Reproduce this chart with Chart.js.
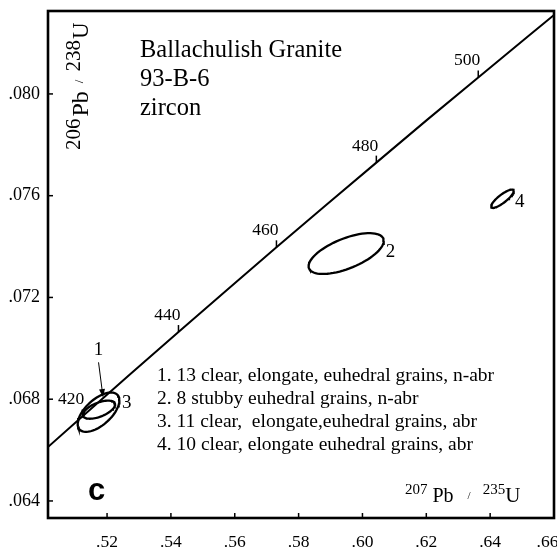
<!DOCTYPE html>
<html>
<head>
<meta charset="utf-8">
<script src="https://cdn.jsdelivr.net/npm/chart.js@4/dist/chart.umd.min.js"></script>
<style>
  html, body { margin: 0; padding: 0; background: #ffffff; }
  #chart { display: block; }
</style>
</head>
<body>
<canvas id="chart" width="557" height="548"></canvas>
<script>
// Concordia curve (age in Ma, 207Pb/235U, 206Pb/238U)
const concordiaAge = [410, 420, 430, 440, 450, 460, 470, 480, 490, 500, 510, 520];
const concordiaX = [0.49745, 0.51225, 0.52722, 0.54237, 0.55764, 0.57306, 0.58862, 0.60435, 0.62023, 0.63627, 0.65246, 0.66882];
const concordiaY = [0.06567, 0.06732, 0.06898, 0.07064, 0.07230, 0.07397, 0.07563, 0.07730, 0.07898, 0.08065, 0.08233, 0.08401];
const ageTicks = [420, 440, 460, 480, 500];

// Error ellipses: fractions 1..4
const fractions = ['1', '2', '3', '4'];
const ellX = [0.51749, 0.5949, 0.51733, 0.64386];
const ellY = [0.067588, 0.073725, 0.06749, 0.075882];
const ellSX = [0.00502, 0.01177, 0.00653, 0.00355];
const ellSY = [0.000356, 0.000802, 0.000773, 0.00036];
const ellRho = [0.57, 0.62, 0.60, 0.84];

// label anchor for each fraction number
const labelX = [0.51733, 0.60728, 0.52471, 0.64779];
const labelY = [0.069725, 0.073608, 0.067647, 0.075569];

const xTickVals = [0.52, 0.54, 0.56, 0.58, 0.60, 0.62, 0.64, 0.66];
const yTickVals = [0.064, 0.068, 0.072, 0.076, 0.080];

const titleLines = ['Ballachulish Granite', '93-B-6', 'zircon'];
const legendLines = [
    '1. 13 clear, elongate, euhedral grains, n-abr',
    '2. 8 stubby euhedral grains, n-abr',
    '3. 11 clear,  elongate,euhedral grains, abr',
    '4. 10 clear, elongate euhedral grains, abr'
];

const SERIF = '"Liberation Serif", "Times New Roman", serif';

function ellipsePoints(i) {
    const pts = [];
    const k = Math.sqrt(1 - ellRho[i] * ellRho[i]);
    for (let a = 0; a <= 72; a++) {
        const t = (a / 72) * Math.PI * 2;
        pts.push({
            x: ellX[i] + ellSX[i] * Math.cos(t),
            y: ellY[i] + ellSY[i] * (ellRho[i] * Math.cos(t) + k * Math.sin(t))
        });
    }
    return pts;
}

function drawParts(ctx, parts, x, y, rotate) {
    ctx.save();
    ctx.translate(x, y);
    if (rotate) ctx.rotate(-Math.PI / 2);
    ctx.textAlign = 'left';
    ctx.textBaseline = 'alphabetic';
    let cx = 0;
    for (const p of parts) {
        if (p.gap) { cx += p.gap; continue; }
        ctx.font = p.size + 'px ' + SERIF;
        ctx.fillText(p.t, cx, -(p.rise || 0));
        cx += ctx.measureText(p.t).width;
    }
    ctx.restore();
}

const annotations = {
    id: 'annotations',
    afterDatasetsDraw(chart) {
        const ctx = chart.ctx;
        const xs = chart.scales.x;
        const ys = chart.scales.y;
        const area = chart.chartArea;
        ctx.save();
        ctx.fillStyle = '#000';
        ctx.strokeStyle = '#000';

        // age ticks + labels on concordia
        ctx.lineWidth = 1.5;
        ctx.font = '17.5px ' + SERIF;
        ctx.textAlign = 'right';
        ctx.textBaseline = 'alphabetic';
        ageTicks.forEach(age => {
            const i = concordiaAge.indexOf(age);
            const px = xs.getPixelForValue(concordiaX[i]);
            const py = ys.getPixelForValue(concordiaY[i]);
            ctx.beginPath();
            ctx.moveTo(px, py);
            ctx.lineTo(px, py - 7);
            ctx.stroke();
            ctx.fillText(String(age), px + 2, py - 12);
        });

        // axis ticks pointing inwards
        xTickVals.forEach(v => {
            const px = xs.getPixelForValue(v);
            ctx.beginPath();
            ctx.moveTo(px, area.bottom);
            ctx.lineTo(px, area.bottom - 5);
            ctx.stroke();
        });
        yTickVals.forEach(v => {
            const py = ys.getPixelForValue(v);
            ctx.beginPath();
            ctx.moveTo(area.left, py);
            ctx.lineTo(area.left + 5, py);
            ctx.stroke();
        });

        // frame
        ctx.lineWidth = 2.6;
        ctx.strokeRect(area.left, area.top, area.right - area.left, area.bottom - area.top);

        // fraction numbers
        ctx.font = '19px ' + SERIF;
        fractions.forEach((f, i) => {
            const px = xs.getPixelForValue(labelX[i]);
            const py = ys.getPixelForValue(labelY[i]);
            ctx.textAlign = i === 0 ? 'center' : 'left';
            ctx.fillText(f, px, py);
        });

        // arrow from label 1 to its ellipse
        const ax0 = xs.getPixelForValue(0.51733), ay0 = ys.getPixelForValue(0.06945);
        const ax1 = xs.getPixelForValue(0.51874), ay1 = ys.getPixelForValue(0.06808);
        const ang = Math.atan2(ay1 - ay0, ax1 - ax0);
        ctx.lineWidth = 1;
        ctx.beginPath();
        ctx.moveTo(ax0, ay0);
        ctx.lineTo(ax1 - 5 * Math.cos(ang), ay1 - 5 * Math.sin(ang));
        ctx.stroke();
        ctx.beginPath();
        ctx.moveTo(ax1, ay1);
        ctx.lineTo(ax1 - 8 * Math.cos(ang) + 3 * Math.sin(ang), ay1 - 8 * Math.sin(ang) - 3 * Math.cos(ang));
        ctx.lineTo(ax1 - 8 * Math.cos(ang) - 3 * Math.sin(ang), ay1 - 8 * Math.sin(ang) + 3 * Math.cos(ang));
        ctx.closePath();
        ctx.fill();

        // title block
        ctx.textAlign = 'left';
        ctx.font = '24.5px ' + SERIF;
        titleLines.forEach((t, i) => ctx.fillText(t, 140, 57 + i * 29));

        // legend block
        ctx.font = '19.5px ' + SERIF;
        legendLines.forEach((t, i) => ctx.fillText(t, 157, 381 + i * 23));

        // panel letter
        ctx.font = 'bold 31px "Liberation Sans", Arial, sans-serif';
        ctx.fillText('c', 88, 500);

        // axis titles
        drawParts(ctx, [
            { t: '207', size: 15, rise: 8 }, { gap: 5 }, { t: 'Pb', size: 20 }, { gap: 14 },
            { t: '/', size: 11, rise: 3 }, { gap: 12 }, { t: '235', size: 15, rise: 8 }, { t: 'U', size: 21 }
        ], 405, 502, false);
        drawParts(ctx, [
            { t: '206', size: 21, rise: 8 }, { gap: 2 }, { t: 'Pb', size: 24 }, { gap: 8 },
            { t: '/', size: 13, rise: 5 }, { gap: 8 }, { t: '238', size: 21, rise: 8 }, { gap: 1 }, { t: 'U', size: 23 }
        ], 88, 150, true);

        ctx.restore();
    }
};

const datasets = [{
    label: 'Concordia',
    data: concordiaX.map((x, i) => ({ x, y: concordiaY[i] })),
    showLine: true,
    borderColor: '#000',
    borderWidth: 2,
    pointRadius: 0,
    tension: 0
}];
fractions.forEach((f, i) => {
    datasets.push({
        label: 'Fraction ' + f,
        data: ellipsePoints(i),
        showLine: true,
        borderColor: '#000',
        borderWidth: 2.3,
        pointRadius: 0,
        tension: 0
    });
});

new Chart(document.getElementById('chart'), {
    type: 'scatter',
    data: { datasets },
    options: {
        responsive: false,
        animation: false,
        layout: { padding: { top: 11, right: 3, left: 0, bottom: 0 } },
        plugins: {
            legend: { display: false },
            tooltip: { enabled: false }
        },
        scales: {
            x: {
                type: 'linear',
                min: 0.5015,
                max: 0.66,
                afterBuildTicks: (scale) => { scale.ticks = xTickVals.map(v => ({ value: v })); },
                afterFit: (scale) => { scale.height = 30; scale.paddingLeft = 0; scale.paddingRight = 0; },
                grid: { display: false },
                border: { display: false },
                ticks: {
                    color: '#000',
                    padding: 6,
                    maxRotation: 0,
                    autoSkip: false,
                    font: { family: SERIF, size: 17.5 },
                    // last label sits against the right edge, nudge it in a little
                    callback: (v) => '.' + Number(v).toFixed(2).split('.')[1] + (v >= 0.66 ? '   ' : '')
                }
            },
            y: {
                type: 'linear',
                min: 0.06333,
                max: 0.08326,
                afterBuildTicks: (scale) => { scale.ticks = yTickVals.map(v => ({ value: v })); },
                afterFit: (scale) => { scale.width = 48; scale.paddingTop = 0; scale.paddingBottom = 0; },
                grid: { display: false, drawTicks: false },
                border: { display: false },
                ticks: {
                    color: '#000',
                    padding: 8,
                    autoSkip: false,
                    font: { family: SERIF, size: 18 },
                    callback: (v) => '.' + Number(v).toFixed(3).split('.')[1]
                }
            }
        }
    },
    plugins: [annotations]
});
</script>
</body>
</html>
